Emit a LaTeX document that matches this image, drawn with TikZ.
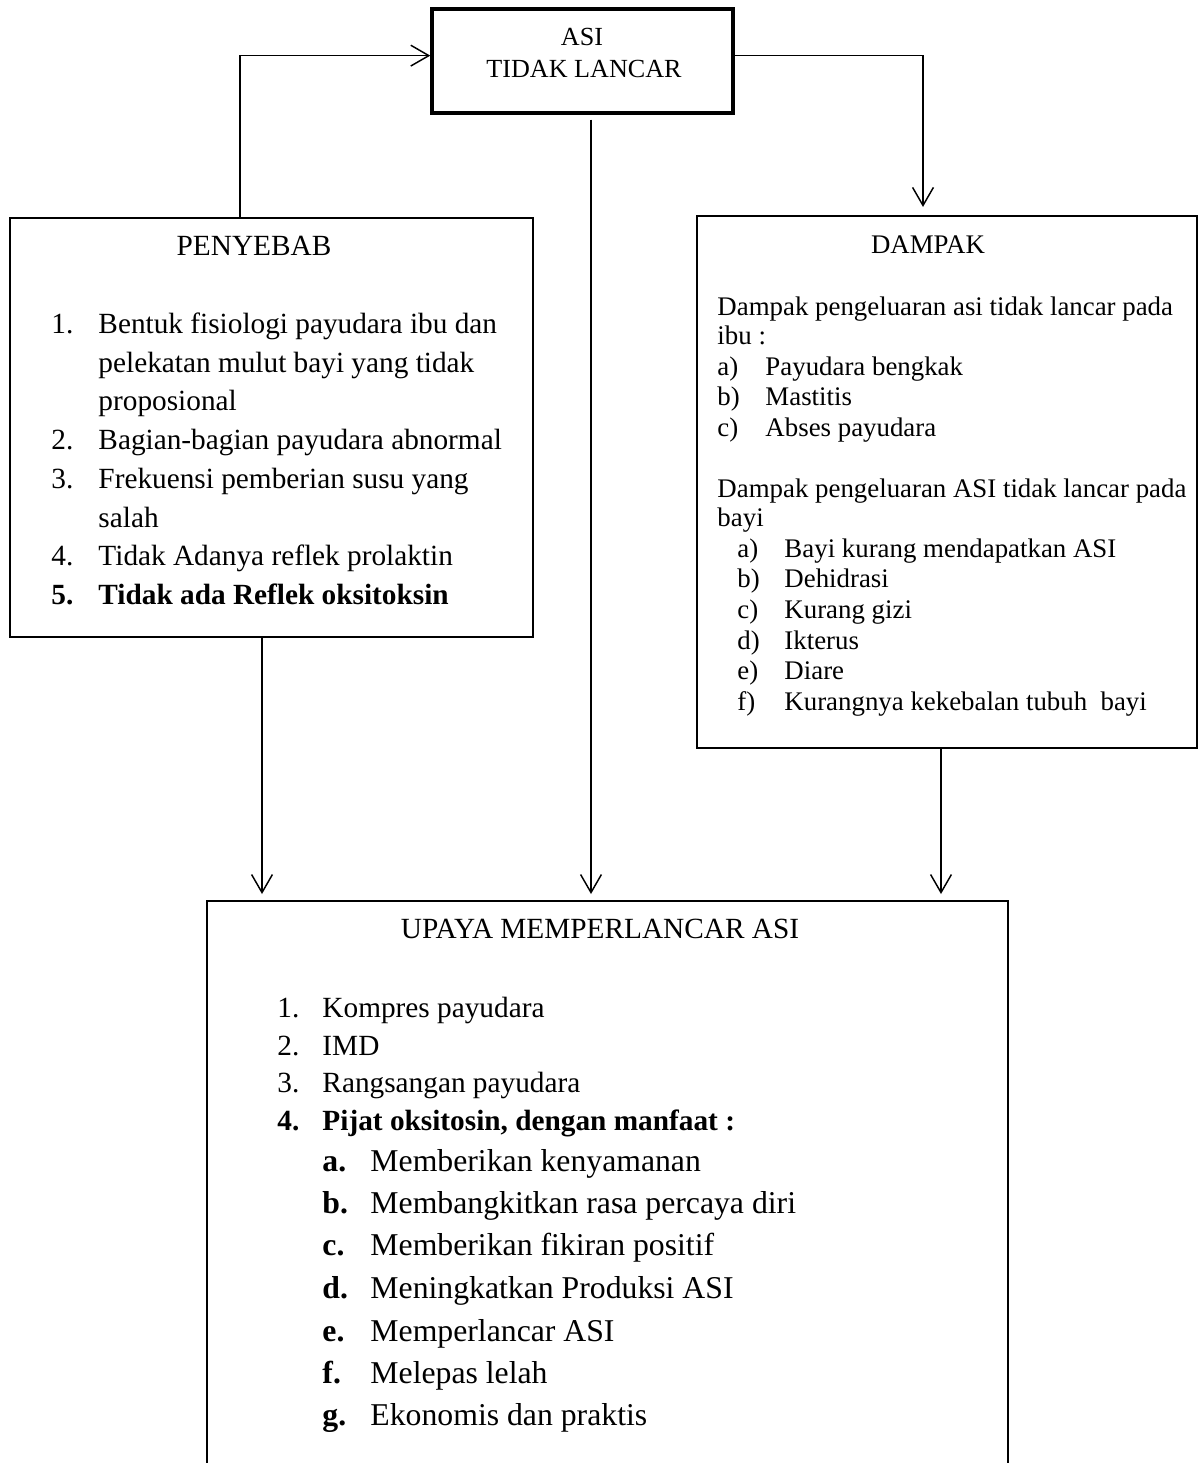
\documentclass[tikz,border=0pt]{standalone}
\usepackage{fontspec}
\setmainfont{Liberation Serif}
\usetikzlibrary{positioning, arrows.meta, fit}
\newcommand\fsAsi{\fontsize{10.7}{12}\selectfont}
\newcommand\fsUtama{\fontsize{12}{14}\selectfont}
\newcommand\fsDampak{\fontsize{11}{13}\selectfont}
\newcommand\fsManfaat{\fontsize{13}{15}\selectfont}
\tikzset{
  kotak/.style={draw, line width=0.6pt, inner sep=0pt},
  kotakutama/.style={draw, line width=1.4pt, inner sep=0pt},
  judul/.style={anchor=base, inner sep=0pt},
  teks/.style={anchor=base west, inner sep=0pt},
  panah/.style={-{Straight Barb[length=2.6mm, width=3mm]}, line width=0.6pt},
}

\begin{document}
\begin{tikzpicture}[x=0.144mm, y=-0.144mm]
  \useasboundingbox (0,0) rectangle (1200,1463);
  % kotak
  \node[kotakutama, fit={(432,9) (733,113)}] (asi) {};
  \node[kotak, fit={(10,218) (533,637)}] (sebab) {};
  \node[kotak, fit={(697,216) (1197,748)}] (dampak) {};
  \node[kotak, fit={(207,901) (1008,1520)}] (upaya) {};
  % judul
  \node[judul, font=\fsAsi] (tasi1) at (582,45) {ASI};
  \node[judul, font=\fsAsi] (tasi2) at (584,77) {TIDAK LANCAR};
  \node[judul, font=\fsUtama] (tsebab) at (254,255) {PENYEBAB};
  \node[judul, font=\fsDampak] (tdampak) at (928,253) {DAMPAK};
  \node[judul, font=\fsUtama] (tupaya) at (600,938) {UPAYA MEMPERLANCAR ASI};
  % penyebab
  \foreach \n/\t/\y [count=\i] in {
      1./Bentuk fisiologi payudara ibu dan/333,
      /pelekatan mulut bayi yang tidak/372,
      /proposional/410,
      2./Bagian-bagian payudara abnormal/449,
      3./Frekuensi pemberian susu yang/488,
      /salah/527,
      4./Tidak Adanya reflek prolaktin/565,
      \textbf{5.}/\textbf{Tidak ada Reflek oksitoksin}/604}{
    \node[teks, font=\fsUtama] (sa\i) at (51,\y) {\n};
    \node[teks, font=\fsUtama] (sb\i) at (98,\y) {\t};
  }
  % dampak
  \node[teks, font=\fsDampak] (da1) at (717,315) {Dampak pengeluaran asi tidak lancar pada};
  \node[teks, font=\fsDampak] (da2) at (717,344) {ibu :};
  \foreach \n/\t/\y [count=\i] in {a)/Payudara bengkak/375, b)/Mastitis/405, c)/Abses payudara/436}{
    \node[teks, font=\fsDampak] (dia\i) at (717,\y) {\n};
    \node[teks, font=\fsDampak] (dib\i) at (765,\y) {\t};
  }
  \node[teks, font=\fsDampak] (db1) at (717,497) {Dampak pengeluaran ASI tidak lancar pada};
  \node[teks, font=\fsDampak] (db2) at (717,526) {bayi};
  \foreach \n/\t/\y [count=\i] in {a)/Bayi kurang mendapatkan ASI/557, b)/Dehidrasi/587,
      c)/Kurang gizi/618, d)/Ikterus/649, e)/Diare/679, f)/Kurangnya kekebalan tubuh\ \ bayi/710}{
    \node[teks, font=\fsDampak] (dba\i) at (737,\y) {\n};
    \node[teks, font=\fsDampak] (dbb\i) at (784,\y) {\t};
  }
  % upaya
  \foreach \n/\t/\y [count=\i] in {1./Kompres payudara/1017, 2./IMD/1055, 3./Rangsangan payudara/1092,
      \textbf{4.}/\textbf{Pijat oksitosin, dengan manfaat :}/1130}{
    \node[teks, font=\fsUtama] (ua\i) at (277,\y) {\n};
    \node[teks, font=\fsUtama] (ub\i) at (322,\y) {\t};
  }
  \foreach \n/\t/\y [count=\i] in {a./Memberikan kenyamanan/1171, b./Membangkitkan rasa percaya diri/1213,
      c./Memberikan fikiran positif/1255, d./Meningkatkan Produksi ASI/1298, e./Memperlancar ASI/1341,
      f./Melepas lelah/1383, g./Ekonomis dan praktis/1425}{
    \node[teks, font=\fsManfaat\bfseries] (ma\i) at (322,\y) {\n};
    \node[teks, font=\fsManfaat] (mb\i) at (370,\y) {\t};
  }
  % panah
  \coordinate (xkiriatas) at (240,0);
  \coordinate (xkananatas) at (923,0);
  \coordinate (xkiri) at (262,0);
  \coordinate (xtengah) at (591,0);
  \coordinate (xkanan) at (941,0);
  \draw[panah] (sebab.north -| xkiriatas) |- ([yshift=2.2pt]asi.west);
  \draw[panah, shorten >=1.2mm] ([yshift=2.2pt]asi.east) -| (dampak.north -| xkananatas);
  \draw[panah, shorten <=0.7mm, shorten >=0.9mm] (asi.south -| xtengah) -- (upaya.north -| xtengah);
  \draw[panah, shorten >=0.9mm] (sebab.south -| xkiri) -- (upaya.north -| xkiri);
  \draw[panah, shorten >=0.9mm] (dampak.south -| xkanan) -- (upaya.north -| xkanan);
\end{tikzpicture}
\end{document}
